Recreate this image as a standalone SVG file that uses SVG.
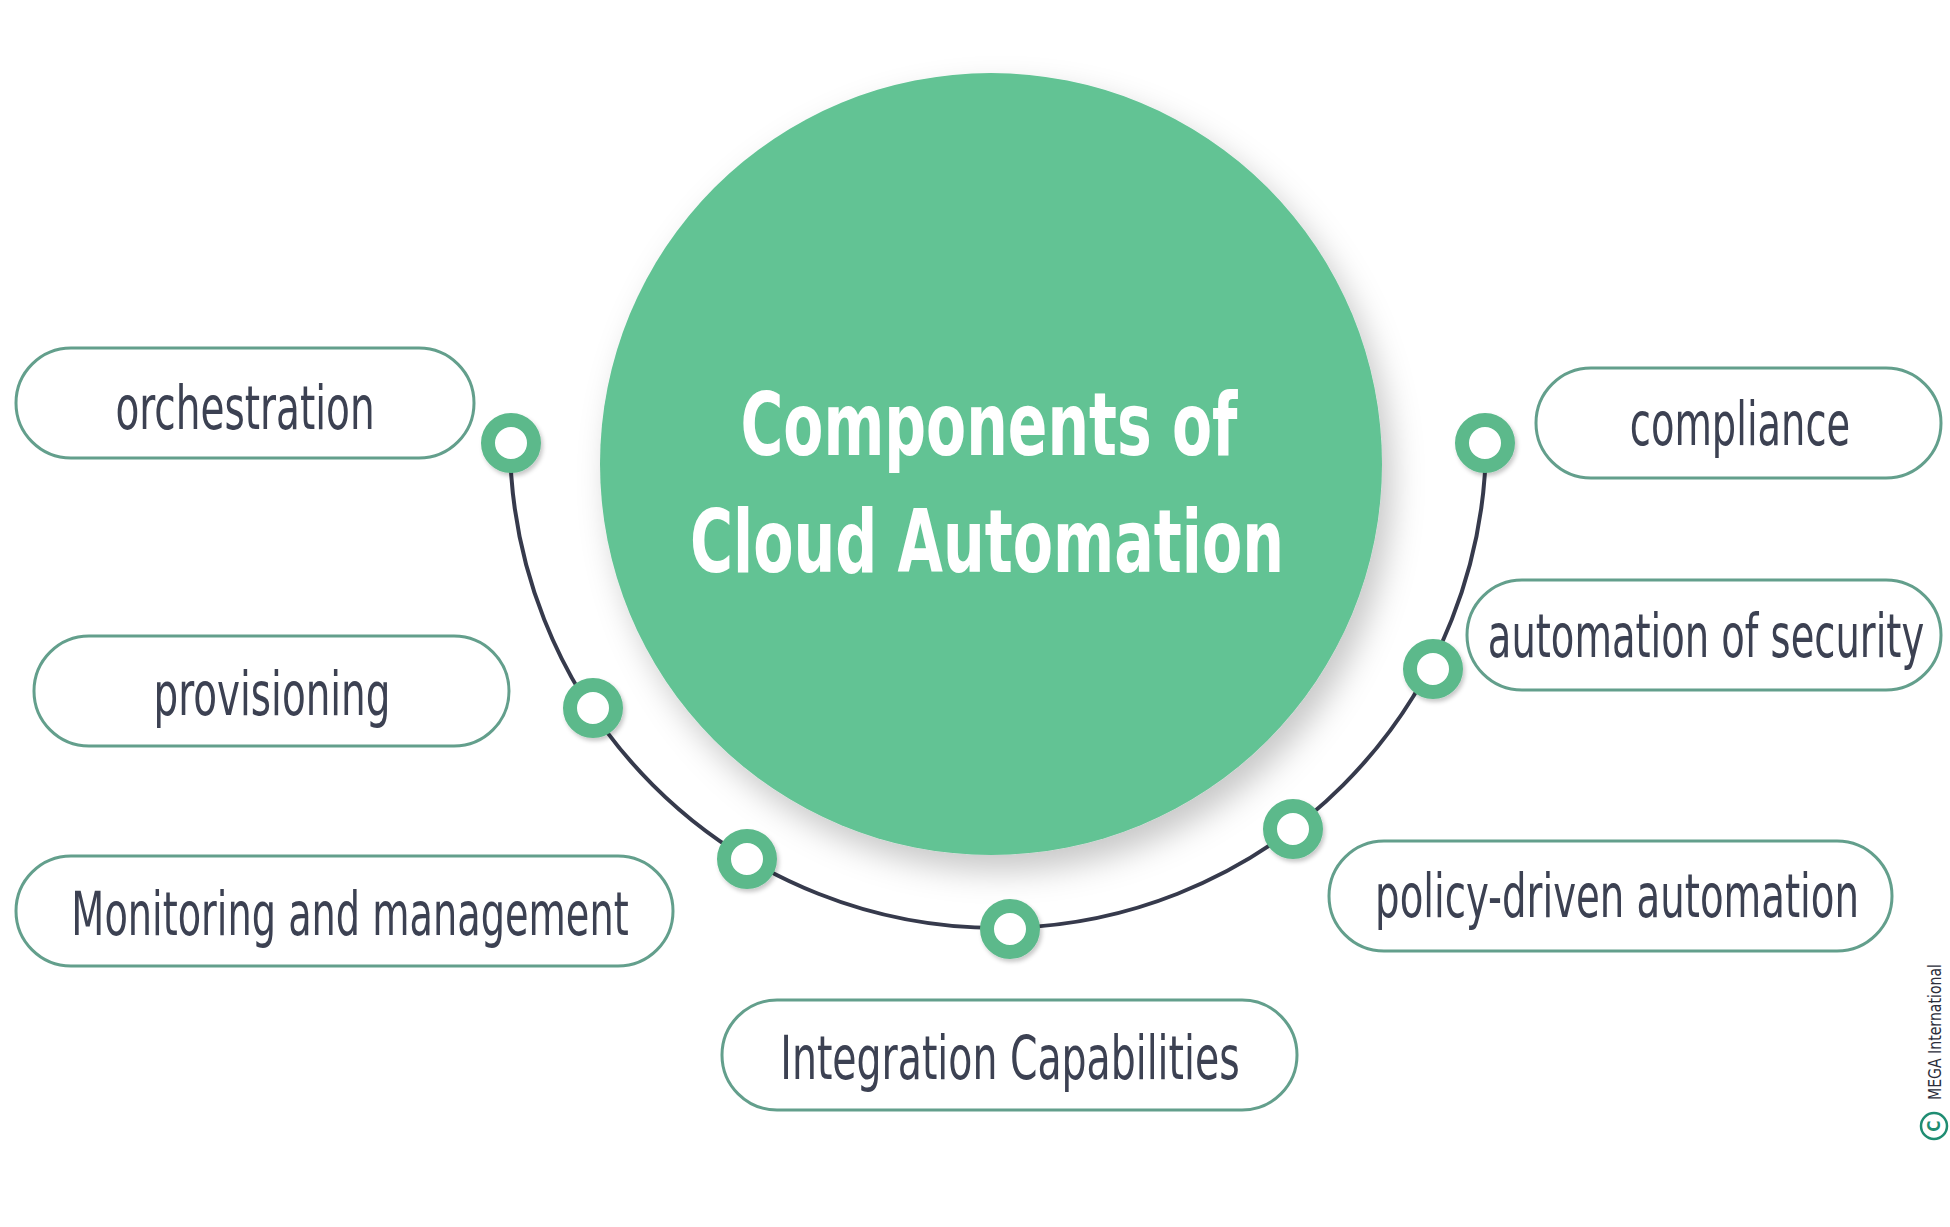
<svg xmlns="http://www.w3.org/2000/svg" width="1950" height="1227" viewBox="0 0 1950 1227">
<defs>
<filter id="sh" x="-20%" y="-20%" width="150%" height="150%"><feDropShadow dx="10" dy="16" stdDeviation="16" flood-color="#000" flood-opacity="0.22"/></filter>
<filter id="dsh" x="-50%" y="-50%" width="200%" height="200%"><feDropShadow dx="2" dy="3" stdDeviation="2" flood-color="#000" flood-opacity="0.22"/></filter>
</defs>
<style>
.pill{fill:#fff;stroke:#639f8c;stroke-width:3}
.lbl{font-family:"Liberation Sans Narrow","DejaVu Sans Condensed","Liberation Sans",sans-serif;font-size:60px;fill:#3c4152;text-anchor:middle}
.ttl{font-family:"Liberation Sans Narrow","DejaVu Sans Condensed","Liberation Sans",sans-serif;font-size:88px;font-weight:bold;fill:#fff;text-anchor:middle}
.ring{fill:#fff;stroke:#5cb98b;stroke-width:14}
.wire{fill:none;stroke:#363a4c;stroke-width:4}
</style>
<rect width="1950" height="1227" fill="#fff"/>
<g id="connectors">
<path class="wire" d="M 510 440 A 488 488 0 0 0 1486 440"/>
</g>
<g id="center">
<circle cx="991" cy="464" r="391" fill="#62c394" filter="url(#sh)"/>
<text class="ttl" x="989" y="455" textLength="497" lengthAdjust="spacingAndGlyphs">Components of</text>
<text class="ttl" x="987" y="572" textLength="594" lengthAdjust="spacingAndGlyphs">Cloud Automation</text>
</g>
<g id="dots" filter="url(#dsh)">
<circle class="ring" cx="511" cy="443" r="23"/>
<circle class="ring" cx="593" cy="708" r="23"/>
<circle class="ring" cx="747" cy="859" r="23"/>
<circle class="ring" cx="1010" cy="929" r="23"/>
<circle class="ring" cx="1293" cy="829" r="23"/>
<circle class="ring" cx="1433" cy="669" r="23"/>
<circle class="ring" cx="1485" cy="443" r="23"/>
</g>
<g id="n-orchestration">
<rect class="pill" x="16" y="348" width="458" height="110" rx="55"/>
<text class="lbl" transform="translate(245 429) scale(0.72 1)" textLength="360" lengthAdjust="spacingAndGlyphs">orchestration</text>
</g>
<g id="n-provisioning">
<rect class="pill" x="34" y="636" width="475" height="110" rx="55"/>
<text class="lbl" transform="translate(272 715) scale(0.72 1)" textLength="329" lengthAdjust="spacingAndGlyphs">provisioning</text>
</g>
<g id="n-monitoring">
<rect class="pill" x="16" y="856" width="657" height="110" rx="55"/>
<text class="lbl" transform="translate(350 935) scale(0.72 1)" textLength="774" lengthAdjust="spacingAndGlyphs">Monitoring and management</text>
</g>
<g id="n-integration">
<rect class="pill" x="722" y="1000" width="575" height="110" rx="55"/>
<text class="lbl" transform="translate(1010 1079) scale(0.72 1)" textLength="638" lengthAdjust="spacingAndGlyphs">Integration Capabilities</text>
</g>
<g id="n-compliance">
<rect class="pill" x="1536" y="368" width="405" height="110" rx="55"/>
<text class="lbl" transform="translate(1740 445) scale(0.72 1)" textLength="306" lengthAdjust="spacingAndGlyphs">compliance</text>
</g>
<g id="n-security">
<rect class="pill" x="1467" y="580" width="474" height="110" rx="55"/>
<text class="lbl" transform="translate(1706 657) scale(0.72 1)" textLength="606" lengthAdjust="spacingAndGlyphs">automation of security</text>
</g>
<g id="n-policy">
<rect class="pill" x="1329" y="841" width="563" height="110" rx="55"/>
<text class="lbl" transform="translate(1617 917) scale(0.72 1)" textLength="672" lengthAdjust="spacingAndGlyphs">policy-driven automation</text>
</g>
<g id="copyright">
<circle cx="1934" cy="1126" r="13" fill="none" stroke="#1f8d72" stroke-width="2.5"/>
<text x="1934" y="1126" transform="rotate(-90 1934 1126)" dy="6" font-family="Liberation Sans Narrow,DejaVu Sans Condensed,sans-serif" font-size="17" fill="#1f8d72" text-anchor="middle" font-weight="bold">C</text>
<text x="1941" y="1100" transform="rotate(-90 1941 1100)" font-family="Liberation Sans Narrow,DejaVu Sans Condensed,sans-serif" font-size="18" fill="#2b2d3a" textLength="136" lengthAdjust="spacingAndGlyphs">MEGA International</text>
</g>
</svg>
